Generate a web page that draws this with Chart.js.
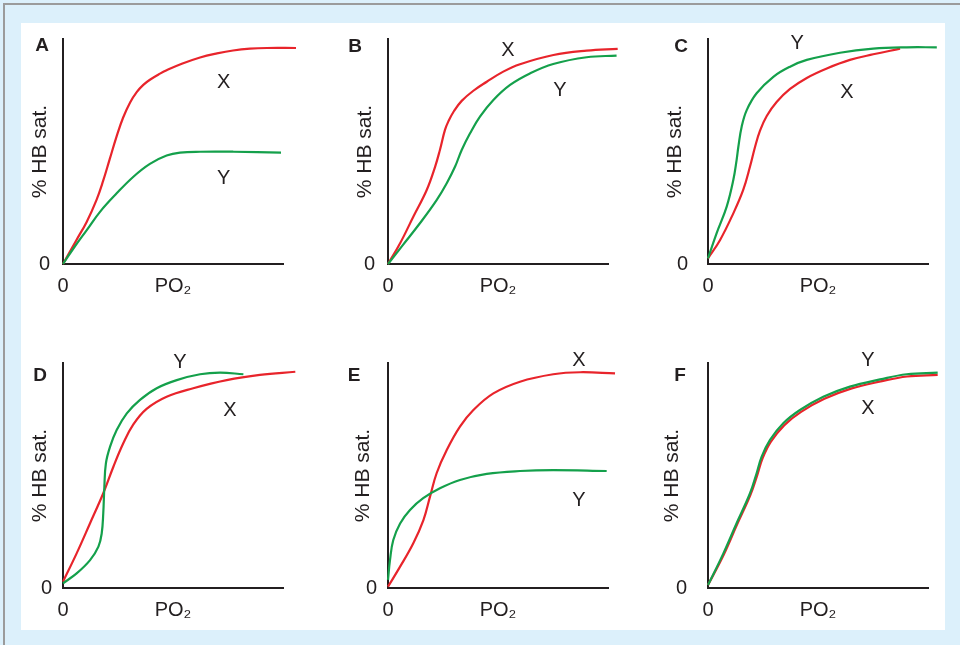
<!DOCTYPE html>
<html>
<head>
<meta charset="utf-8">
<title>% HB sat. vs PO2</title>
<script src="https://cdn.jsdelivr.net/npm/chart.js@4.4.0/dist/chart.umd.min.js"></script>
<style>
  html, body { margin: 0; padding: 0; }
  body { width: 960px; height: 645px; background: #dcf0fb; position: relative; overflow: hidden; }
  .frame { position: absolute; left: 3px; top: 3px; right: 0; bottom: 0; border-top: 2px solid #9b9b9b; border-left: 2px solid #9b9b9b; }
  .paper { position: absolute; left: 21px; top: 23px; width: 924px; height: 607px; background: #fff; }
  .panel { position: absolute; width: 315px; height: 321px; }
</style>
</head>
<body>
<div class="frame"></div>
<div class="paper"></div>
<div class="panel" style="left:0;top:0"><canvas id="chartA" width="315" height="321"></canvas></div>
<div class="panel" style="left:325px;top:0"><canvas id="chartB" width="315" height="321"></canvas></div>
<div class="panel" style="left:645px;top:0"><canvas id="chartC" width="315" height="321"></canvas></div>
<div class="panel" style="left:0;top:324px"><canvas id="chartD" width="315" height="321"></canvas></div>
<div class="panel" style="left:325px;top:324px"><canvas id="chartE" width="315" height="321"></canvas></div>
<div class="panel" style="left:645px;top:324px"><canvas id="chartF" width="315" height="321"></canvas></div>
<script>
// curve points, [PO2, %sat] on a 0-100 scale
var curveAX = [[0,0],[6.2,10.8],[10.7,18.6],[15.2,28.4],[18.2,36.8],[21.2,46.5],[24.3,56.5],[27.3,65],[30.5,71.8],[33.5,76.4],[36.5,79.6],[39.5,81.9],[44.1,84.6],[47.1,86.1],[54,89],[62.3,91.8],[70,93.6],[77.3,94.9],[85,95.7],[92.7,96],[105.9,96]];
var curveAY = [[0,0],[4.8,7],[10.8,15.1],[16.9,23.3],[24.4,31.4],[32,38.8],[39.5,44.5],[47.1,48.2],[53.2,49.5],[62.3,49.9],[77.4,49.9],[99.1,49.5]];

var curveBX = [[0,0],[5.5,9.2],[11.5,21],[17.6,32.9],[21.4,43.2],[23.6,50.7],[25.9,59.6],[27.5,63.5],[30,68],[33.5,72.5],[38.8,77],[44.9,81],[52.4,85.5],[60,88.8],[75.2,92.9],[90.3,94.8],[104.4,95.6]];
var curveBY = [[0,0],[6.9,8.6],[14.5,18.1],[22.1,28.4],[26.7,35.9],[30.5,43.3],[33.5,50.7],[37.3,58.1],[41.8,65.5],[47.9,72.9],[55.5,79.6],[64.5,84.7],[75.1,88.9],[90.3,91.9],[103.9,92.6]];

var curveCX = [[0,2.5],[5.5,10.7],[11.5,22.5],[16,32.9],[19.1,43.3],[21.4,52.1],[23.6,59.2],[26.7,65.8],[31.2,72],[37.3,77.8],[44.9,82.7],[54,86.9],[64.5,90.7],[75.1,93.2],[87.3,95.7]];
var curveCY = [[0,2.5],[3.9,13.6],[8.5,25.5],[11.5,37.3],[13,46.2],[13.8,52.1],[15.3,61],[17.6,68.4],[22.1,75.9],[29.7,83.2],[37.3,87.7],[44.9,90.7],[60,93.9],[75.1,95.7],[90.3,96.3],[104,96.3]];

var curveDX = [[0,2.8],[6.2,15.4],[12.3,28.8],[18.3,42.1],[22.9,53.9],[27.4,64.3],[31.9,72.6],[38,79.6],[47.1,85],[59.2,88.8],[74.4,92.4],[89.5,94.7],[105.6,96.1]];
var curveDY = [[0,2.1],[6.2,6.5],[12.3,12.4],[16.1,18.4],[17.6,24.3],[18.3,33.2],[18.8,45],[19.5,55.4],[21.4,62.8],[24.4,70.2],[29,77.6],[35,83.6],[42.6,88.8],[51.7,92.4],[62.3,95],[71.4,95.7],[82,95]];

var curveEX = [[0,0.6],[5.5,9.5],[11.5,19.9],[16.1,30.2],[19.1,40.6],[22.1,51],[26.7,61.3],[32.7,71.7],[38.8,79.1],[47.9,86.5],[60,91.7],[75.1,95],[87.3,95.9],[103.2,95.4]];
var curveEY = [[0,3.6],[0.9,12.4],[2.4,21.3],[5.5,28.7],[10,34.7],[16,39.9],[23.6,44.3],[32.7,48],[44.9,50.7],[60,52],[75.1,52.4],[99.4,52]];

var curveFX = [[0,1.3],[7.2,14.9],[13.2,28.2],[19.3,41.4],[22.4,50.2],[24.8,57.6],[28.6,65],[34.7,72.4],[42.3,78.3],[52.9,84.1],[65,88.6],[78.5,91.8],[90.5,94],[104.4,94.7]];
var curveFY = [[0,1.3],[7,15.4],[13,28.8],[19.1,42.1],[22.1,51],[24.4,58.4],[28.2,65.8],[34.2,73.2],[41.8,79.1],[52.4,85],[64.5,89.5],[78.2,92.7],[90.3,95],[104.4,95.7]];

// where the X / Y tags sit, in the same units
var tagsA = [['X',73,80.7],['Y',73,37.8]];
var tagsB = [['X',54.5,95.1],['Y',78.2,76.9]];
var tagsC = [['Y',40.5,98.2],['X',63.2,76.4]];
var tagsD = [['Y',53.2,100.4],['X',75.9,79.1]];
var tagsE = [['X',86.8,101.3],['Y',86.8,39.1]];
var tagsF = [['Y',72.7,101.3],['X',72.7,80]];

var xTicks = [0, 50];
var xTickLabels = ['0', 'PO\u2082'];
var yTicks = [0];
var yTickLabels = ['0'];
var yTitle = '% HB sat.';

var RED = '#e8242b', GREEN = '#14a04b', INK = '#231f20';
var FONT = '"Liberation Sans", Arial, sans-serif';

// small per-panel nudges (title / tick / letter offsets in px)
var panelSetup = [
  {id: 'A', x: curveAX, y: curveAY, tags: tagsA, titlePad: 28, tickPad: 13, letter: [-21, 7]},
  {id: 'B', x: curveBX, y: curveBY, tags: tagsB, titlePad: 28, tickPad: 13, letter: [-33, 8]},
  {id: 'C', x: curveCX, y: curveCY, tags: tagsC, titlePad: 18, tickPad: 20, letter: [-27, 8]},
  {id: 'D', x: curveDX, y: curveDY, tags: tagsD, titlePad: 28, tickPad: 11, letter: [-23, 13]},
  {id: 'E', x: curveEX, y: curveEY, tags: tagsE, titlePad: 26, tickPad: 11, letter: [-34, 13]},
  {id: 'F', x: curveFX, y: curveFY, tags: tagsF, titlePad: 15, tickPad: 21, letter: [-28, 13]}
];

var toPoints = function(arr){
  return arr.map(function(p){ return {x: p[0], y: p[1]}; });
};

var tagPlugin = {
  id: 'curveTags',
  afterDatasetsDraw: function(chart, args, opts){
    var ctx = chart.ctx, xs = chart.scales.x, ys = chart.scales.y;
    ctx.save();
    ctx.fillStyle = INK;
    ctx.textAlign = 'center';
    ctx.textBaseline = 'middle';
    ctx.font = '20px ' + FONT;
    opts.tags.forEach(function(t){
      ctx.fillText(t[0], xs.getPixelForValue(t[1]), ys.getPixelForValue(t[2]));
    });
    ctx.font = 'bold 19px ' + FONT;
    ctx.fillText(opts.letter, chart.chartArea.left + opts.letterOff[0], chart.chartArea.top + opts.letterOff[1]);
    ctx.restore();
  }
};

Chart.defaults.font.family = FONT;
Chart.defaults.font.size = 20;
Chart.defaults.color = INK;

panelSetup.forEach(function(p){
  new Chart(document.getElementById('chart' + p.id), {
    type: 'line',
    data: {
      datasets: [
        {label: 'Y', data: toPoints(p.y), borderColor: GREEN, borderWidth: 2.2, pointRadius: 0, tension: 0.4, fill: false, clip: false},
        {label: 'X', data: toPoints(p.x), borderColor: RED, borderWidth: 2.2, pointRadius: 0, tension: 0.4, fill: false, clip: false}
      ]
    },
    options: {
      responsive: false,
      animation: false,
      events: [],
      elements: {line: {capBezierPoints: false}},
      layout: {padding: {left: 0, top: 39, right: 32, bottom: 17}},
      plugins: {
        legend: {display: false},
        tooltip: {enabled: false},
        curveTags: {tags: p.tags, letter: p.id, letterOff: p.letter}
      },
      scales: {
        x: {
          type: 'linear', min: 0, max: 100,
          grid: {display: false, drawTicks: false},
          border: {display: true, color: INK, width: 2},
          ticks: {padding: 10, maxRotation: 0, autoSkip: false, color: INK,
            callback: function(v){ return xTickLabels[xTicks.indexOf(v)]; }},
          afterBuildTicks: function(s){ s.ticks = xTicks.map(function(v){ return {value: v}; }); },
          afterFit: function(s){ s.height = 40; }
        },
        y: {
          type: 'linear', min: 0, max: 100,
          grid: {display: false, drawTicks: false},
          border: {display: true, color: INK, width: 2},
          ticks: {padding: p.tickPad, color: INK,
            callback: function(v){ return yTickLabels[yTicks.indexOf(v)]; }},
          afterBuildTicks: function(s){ s.ticks = yTicks.map(function(v){ return {value: v}; }); },
          title: {display: true, text: yTitle, color: INK, font: {size: 21}, padding: {top: p.titlePad, bottom: 0}},
          afterFit: function(s){ s.width = 63; }
        }
      }
    },
    plugins: [tagPlugin]
  });
});
</script>
</body>
</html>
